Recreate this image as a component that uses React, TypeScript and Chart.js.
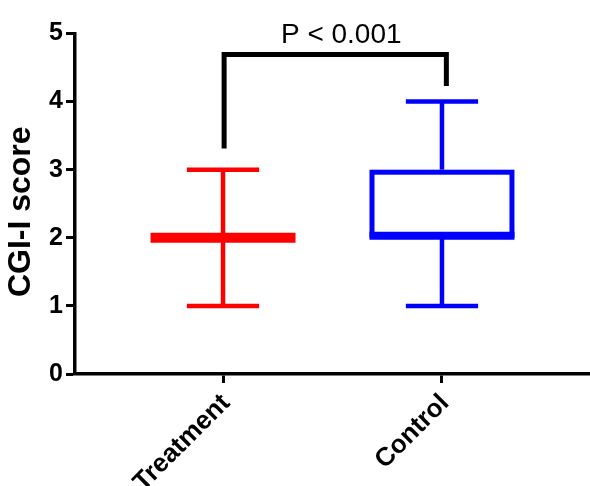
import React, { useEffect, useRef } from 'react';
import { Chart, registerables } from 'chart.js';

Chart.register(...registerables);

// ---- data ----
const categories = ['Treatment', 'Control'];
const categoryX = [1, 2];
const minValues = [1, 1];
const q1Values = [2, 2];
const medianValues = [2, 2];
const q3Values = [2, 3];
const maxValues = [3, 4];
const boxColors = ['#FF0000', '#0000FF'];
const yTickValues = [0, 1, 2, 3, 4, 5];
const bracketX = [1.005, 2.02];
const bracketBottoms = [3.31, 4.23];
const bracketTop = 4.69;
const pLabel = 'P < 0.001';
const pLabelPos = [1.54, 4.86];
const yTitle = 'CGI-I score';

const FONT = "Arial, 'Liberation Sans', Helvetica, sans-serif";

const boxPlugin = {
  id: 'boxPlots',
  afterDatasetsDraw(chart: any) {
    const { ctx, scales, chartArea } = chart;
    const x = scales.x;
    const y = scales.y;
    const unit = x.getPixelForValue(2) - x.getPixelForValue(1);
    const boxHalf = 0.331 * unit;
    const capHalf = 0.165 * unit;
    const line = (x1: number, y1: number, x2: number, y2: number) => {
      ctx.beginPath();
      ctx.moveTo(x1, y1);
      ctx.lineTo(x2, y2);
      ctx.stroke();
    };
    ctx.save();
    ctx.lineCap = 'butt';
    for (let i = 0; i < categories.length; i++) {
      const cx = x.getPixelForValue(categoryX[i]);
      const pMin = y.getPixelForValue(minValues[i]);
      const pQ1 = y.getPixelForValue(q1Values[i]);
      const pMed = y.getPixelForValue(medianValues[i]);
      const pQ3 = y.getPixelForValue(q3Values[i]);
      const pMax = y.getPixelForValue(maxValues[i]);
      ctx.strokeStyle = boxColors[i];
      ctx.lineWidth = 4.5;
      line(cx, pQ1, cx, pMin);
      line(cx, pQ3, cx, pMax);
      line(cx - capHalf, pMin, cx + capHalf, pMin);
      line(cx - capHalf, pMax, cx + capHalf, pMax);
      const open = q3Values[i] > q1Values[i];
      if (open) {
        ctx.lineWidth = 5;
        ctx.strokeRect(cx - boxHalf + 2.5, pQ3 + 2.5, 2 * boxHalf - 5, pQ1 - pQ3 - 5);
      }
      ctx.lineWidth = open ? 8 : 10;
      line(cx - boxHalf, pMed - (open ? 2 : 0), cx + boxHalf, pMed - (open ? 2 : 0));
    }

    // significance bracket
    ctx.strokeStyle = '#000000';
    ctx.lineWidth = 5;
    ctx.lineJoin = 'miter';
    ctx.beginPath();
    ctx.moveTo(x.getPixelForValue(bracketX[0]), y.getPixelForValue(bracketBottoms[0]));
    ctx.lineTo(x.getPixelForValue(bracketX[0]), y.getPixelForValue(bracketTop));
    ctx.lineTo(x.getPixelForValue(bracketX[1]), y.getPixelForValue(bracketTop));
    ctx.lineTo(x.getPixelForValue(bracketX[1]), y.getPixelForValue(bracketBottoms[1]));
    ctx.stroke();

    ctx.fillStyle = '#000000';
    ctx.font = `normal 28px ${FONT}`;
    ctx.textAlign = 'center';
    ctx.textBaseline = 'alphabetic';
    ctx.fillText(pLabel, x.getPixelForValue(pLabelPos[0]), y.getPixelForValue(pLabelPos[1]));

    // y axis title
    ctx.save();
    ctx.translate(21.5, (chartArea.top + chartArea.bottom) / 2 + 8);
    ctx.rotate(-Math.PI / 2);
    ctx.font = `bold 32px ${FONT}`;
    ctx.textAlign = 'center';
    ctx.textBaseline = 'middle';
    ctx.fillText(yTitle, 0, 0);
    ctx.restore();

    ctx.restore();
  },
};

export default function App() {
  const ref = useRef<HTMLCanvasElement>(null);
  useEffect(() => {
    document.body.style.margin = '0';
    const canvas = ref.current!;
    const chart = new Chart(canvas, {
      type: 'scatter',
      data: { datasets: [] },
      options: {
        animation: false,
        responsive: false,
        devicePixelRatio: 1,
        layout: { padding: { top: 33.5, left: 0, right: 0, bottom: 0 } },
        plugins: { legend: { display: false }, tooltip: { enabled: false } },
        scales: {
          x: {
            type: 'linear',
            min: 0.324,
            max: 2.676,
            afterBuildTicks: (scale: any) => {
              scale.ticks = categoryX.map((v) => ({ value: v }));
            },
            afterFit: (scale: any) => {
              scale.height = 112;
            },
            ticks: {
              autoSkip: false,
              minRotation: 45,
              maxRotation: 45,
              padding: 5,
              labelOffset: 3,
              color: '#000000',
              font: { family: FONT, size: 26, weight: 'bold' },
              callback: (v: any) => {
                const idx = categoryX.indexOf(Number(v));
                return idx >= 0 ? categories[idx] : '';
              },
            },
            grid: {
              display: true,
              drawOnChartArea: false,
              drawTicks: true,
              tickLength: 9,
              tickWidth: 3,
              color: '#000000',
            },
            border: { display: true, color: '#000000', width: 3.5 },
          },
          y: {
            type: 'linear',
            min: 0,
            max: 5,
            afterBuildTicks: (scale: any) => {
              scale.ticks = yTickValues.map((v) => ({ value: v }));
            },
            afterFit: (scale: any) => {
              scale.width = 75;
            },
            ticks: {
              padding: 3,
              color: '#000000',
              font: { family: FONT, size: 25, weight: 'bold' },
            },
            grid: {
              display: true,
              drawOnChartArea: false,
              drawTicks: true,
              tickLength: 9,
              tickWidth: 3,
              color: '#000000',
            },
            border: { display: true, color: '#000000', width: 3.5 },
          },
        },
      },
      plugins: [boxPlugin],
    } as any);
    return () => chart.destroy();
  }, []);
  return (
    <canvas
      ref={ref}
      width={590}
      height={486}
      style={{ display: 'block', width: 590, height: 486 }}
    />
  );
}
